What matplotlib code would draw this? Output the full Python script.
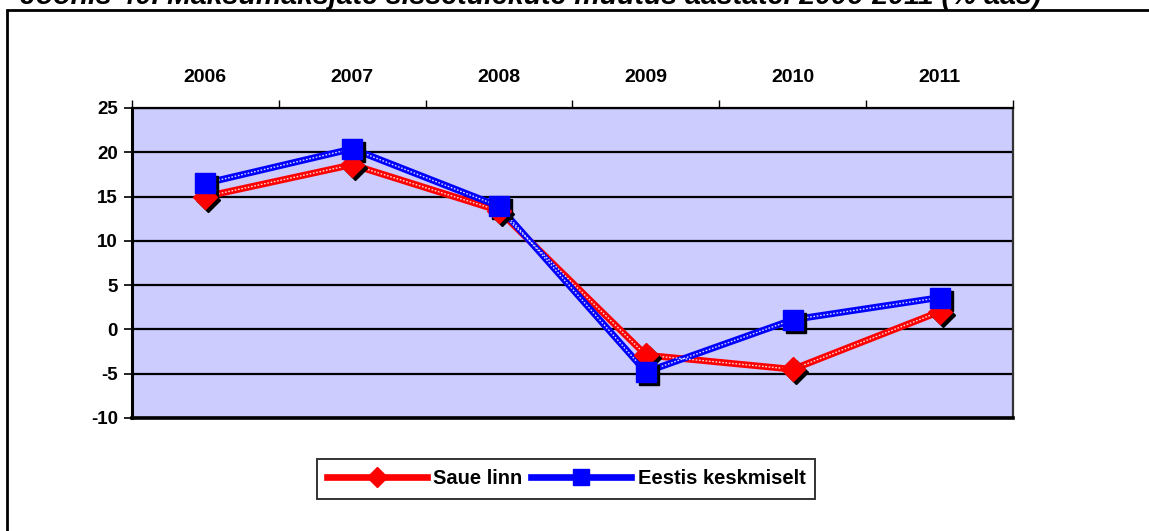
import matplotlib
matplotlib.use("Agg")
import matplotlib.pyplot as plt
import matplotlib.transforms as mtransforms
from matplotlib.patches import Rectangle
from matplotlib.lines import Line2D
import numpy as np

plt.rcParams['font.family'] = ['Liberation Sans', 'DejaVu Sans']
plt.rcParams['axes.unicode_minus'] = False

TITLE = "Joonis 40. Maksumaksjate sissetulekute muutus aastatel 2006-2011 (% aas)"
years = ["2006", "2007", "2008", "2009", "2010", "2011"]
saue_linn = [15.0, 18.6, 13.4, -2.9, -4.5, 2.0]
eesti_keskm = [16.5, 20.4, 13.9, -4.8, 1.1, 3.6]
series_names = ["Saue linn", "Eestis keskmiselt"]

fig = plt.figure(figsize=(11.49, 5.31), dpi=100)

# outer frame (runs off the right and bottom of the picture)
fig.patches.append(Rectangle((7 / 1149, -0.1), 1.2, 1 - 9.5 / 531 + 0.1,
                             transform=fig.transFigure, fill=False,
                             edgecolor="black", linewidth=2))
fig.text(20 / 1149, 1.006, TITLE, fontsize=20.5, fontweight="bold",
         fontstyle="italic", ha="left", va="center")

ax = fig.add_axes([132 / 1149, 1 - 418 / 531, (1013 - 132) / 1149, (418 - 108) / 531])
ax.set_facecolor("#CCCCFF")

x = np.arange(len(years))
shadow = mtransforms.offset_copy(ax.transData, fig=fig, x=3, y=-3, units="dots")


def draw_series(vals, color, marker, ms):
    ax.plot(x, vals, color=color, linewidth=4.8, zorder=3, solid_capstyle="butt")
    ax.plot(x, vals, color="white", linewidth=1.0, linestyle=(0, (1.2, 1.2)),
            alpha=0.85, zorder=3.1)
    ax.plot(x, vals, linestyle="none", marker=marker, markersize=ms,
            color="black", transform=shadow, zorder=3.5)
    ax.plot(x, vals, linestyle="none", marker=marker, markersize=ms,
            color=color, zorder=4)


draw_series(saue_linn, "#FF0000", "D", 12)
draw_series(eesti_keskm, "#0000FF", "s", 14)

ax.set_xlim(-0.5, len(years) - 0.5)
ax.set_ylim(-10, 25)
ax.set_yticks(np.arange(-10, 26, 5))
ax.grid(axis="y", color="black", linewidth=1.6)
ax.set_axisbelow(True)
ax.tick_params(axis="y", length=6, width=1.2, labelsize=13.5, pad=4)
for lab in ax.get_yticklabels():
    lab.set_fontweight("bold")

ax.xaxis.tick_top()
ax.set_xticks(np.arange(-0.5, len(years), 1.0))
ax.set_xticklabels([])
ax.tick_params(axis="x", which="major", length=6, width=1.0, direction="out")
ax.set_xticks(x, minor=True)
ax.set_xticklabels(years, minor=True, fontsize=14, fontweight="bold")
ax.tick_params(axis="x", which="minor", length=0, pad=16)

ax.spines["left"].set_linewidth(2.2)
ax.spines["bottom"].set_linewidth(2.6)
ax.spines["top"].set_linewidth(1.6)
ax.spines["right"].set_linewidth(1.6)
ax.spines["right"].set_color("#333333")

handles = [
    Line2D([], [], color="#FF0000", linewidth=4.8, marker="D", markersize=10),
    Line2D([], [], color="#0000FF", linewidth=4.8, marker="s", markersize=11),
]
leg = fig.legend(handles, series_names, loc="center",
                 bbox_to_anchor=(566 / 1149, 1 - 479 / 531), ncol=2,
                 frameon=True, fancybox=False, edgecolor="black",
                 handlelength=5.0, handletextpad=0.3, columnspacing=0.4,
                 borderpad=0.5, prop={"weight": "bold", "size": 14.5})
leg.get_frame().set_linewidth(1.4)

fig.savefig("out.png", dpi=100)
